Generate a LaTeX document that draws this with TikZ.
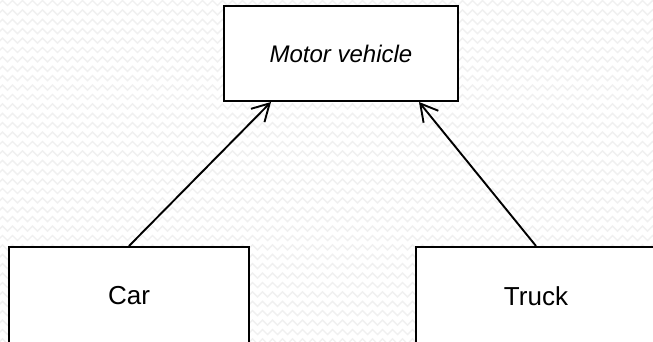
\documentclass[tikz,border=0pt]{standalone}
\usepackage{fontspec}
\setmainfont{Liberation Sans}
\usetikzlibrary{arrows.meta,calc,decorations.pathmorphing}

\tikzset{
  classbox/.style={draw=black, fill=white, line width=2pt, inner sep=0pt},
  inherit/.style={line width=1.9pt, -{Straight Barb[length=17pt, width=19pt, line width=1.9pt]}},
  waves/.style={draw=black!6, line width=1.4pt, decorate,
    decoration={zigzag, segment length=10pt, amplitude=2.5pt}},
}

\begin{document}
\begin{tikzpicture}[x=1pt, y=-1pt]
  \useasboundingbox (0,0) rectangle (653,341);
  \clip (0,0) rectangle (653,341);

  % faint wavy backdrop
  \fill[white] (0,0) rectangle (653,341);
  \foreach \r in {0,...,36} {
    \path[waves] (-10,{3+9.4*\r}) -- (670,{3+9.4*\r});
  }

  % classes
  \node[classbox, minimum width=234pt, minimum height=95pt] (mv) at (341,53.5)
    {\fontsize{24}{28}\selectfont\itshape Motor vehicle};
  \node[classbox, minimum width=240pt, minimum height=98pt] (car) at (129,296)
    {\fontsize{26}{30}\selectfont Car};
  \node[classbox, minimum width=240pt, minimum height=98pt] (truck) at (536,296)
    {\fontsize{26}{30}\selectfont Truck};

  % generalisation arrows
  \coordinate (mvL) at ($(mv.south west)+(48,0)$);
  \coordinate (mvR) at ($(mv.south east)+(-40,0)$);
  \draw[inherit] (car.north) -- (mvL);
  \draw[inherit] (truck.north) -- (mvR);
\end{tikzpicture}
\end{document}
